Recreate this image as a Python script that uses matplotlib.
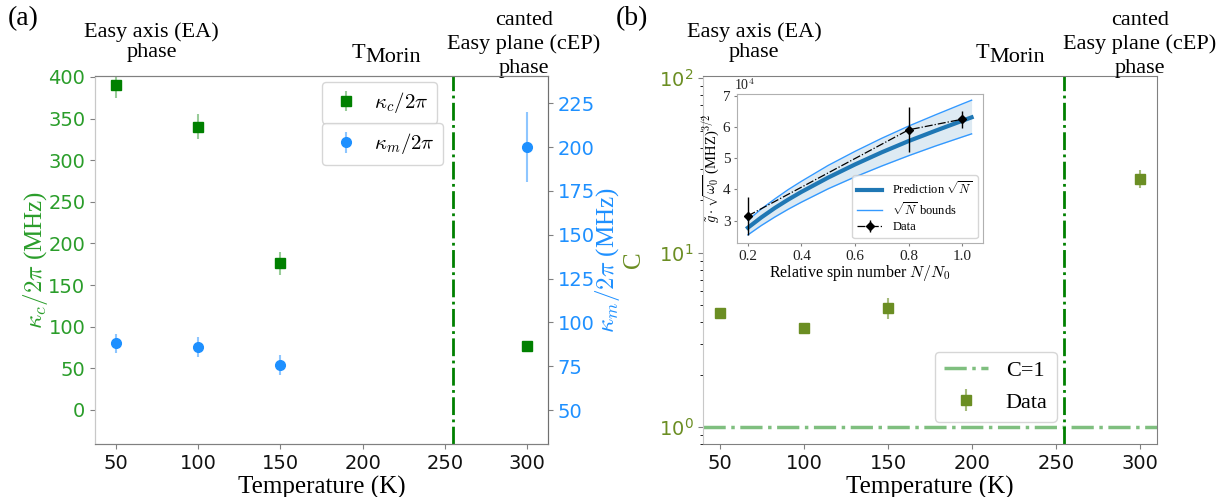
import numpy as np
import matplotlib.pyplot as plt
from matplotlib.transforms import blended_transform_factory

plt.rcParams['font.family'] = 'DejaVu Sans'
plt.rcParams['mathtext.fontset'] = 'cm'

SERIF = 'Liberation Serif'

# Linewidths vs temperature (K)
temps = [50, 100, 150, 300]
kappa_c = [390, 340, 176, 77]
kappa_c_err = [15, 15, 14, 3]
kappa_m = [88, 86, 75.6, 200]
kappa_m_err = [5.3, 5.5, 5.7, 20]

# Cooperativity vs temperature
coop = [4.54, 3.69, 4.83, 26.5]
coop_err = [0.15, 0.15, 0.65, 3.1]

T_MORIN = 255

# Inset: coupling vs relative spin number (units of 1e4)
n_rel = [0.2, 0.8, 1.0]
g_data = [3.15, 5.91, 6.25]
g_err = [0.62, 0.72, 0.27]
n_grid = [0.2, 0.25, 0.3, 0.35, 0.4, 0.5, 0.6, 0.7, 0.8, 0.9, 1.0, 1.035]
g_pred = [2.77, 3.10, 3.40, 3.67, 3.92, 4.38, 4.80, 5.19, 5.55, 5.88, 6.20, 6.31]
g_upper = [3.01, 3.37, 3.69, 3.99, 4.26, 4.77, 5.22, 5.64, 6.03, 6.39, 6.74, 6.86]
g_lower = [2.54, 2.84, 3.11, 3.36, 3.59, 4.02, 4.40, 4.75, 5.08, 5.39, 5.68, 5.78]

GREEN = 'green'
GREEN_TXT = '#2a9d2a'
BLUE = 'dodgerblue'
OLIVE = '#6b8e23'


def style_spines(ax):
    for side in ['top', 'right', 'bottom']:
        ax.spines[side].set_color('#808080')
    ax.spines['left'].set_color('#c8c8c8')
    ax.tick_params(colors='#808080', labelsize=14)
    for lbl in ax.get_xticklabels():
        lbl.set_color('#111111')


def phase_labels(ax, x_ea, x_morin, x_cep):
    trans = blended_transform_factory(ax.transData, ax.transAxes)
    ax.text(x_ea, 1.038, 'Easy axis (EA)\nphase', transform=trans, ha='center',
            va='bottom', fontsize=16, family=SERIF, linespacing=1.1, clip_on=False)
    ax.text(x_morin, 1.049, 'T', transform=trans, ha='right', va='baseline',
            fontsize=16, family=SERIF, clip_on=False)
    ax.text(x_morin, 1.038, 'Morin', transform=trans, ha='left', va='baseline',
            fontsize=16, family=SERIF, clip_on=False)
    ax.text(x_cep, 0.996, 'canted\nEasy plane (cEP)\nphase', transform=trans,
            ha='center', va='bottom', fontsize=16, family=SERIF, linespacing=1.3,
            clip_on=False)


fig = plt.figure(figsize=(12.32, 4.97), dpi=100)

# ---- (a) linewidths ----
ax = fig.add_axes([0.0771, 0.1066, 0.3677, 0.7404])
ax2 = ax.twinx()

ax.errorbar(temps, kappa_c, yerr=kappa_c_err, fmt='s', color=GREEN, ms=6.5,
            ecolor=(0, 0.5, 0, 0.4), elinewidth=1.5, label=r'$\kappa_c/2\pi$')
ax2.errorbar(temps, kappa_m, yerr=kappa_m_err, fmt='o', color=BLUE, ms=7,
             ecolor=(0.12, 0.56, 1.0, 0.5), elinewidth=1.5, label=r'$\kappa_m/2\pi$')
ax.axvline(T_MORIN, color=GREEN, ls='-.', lw=2)

ax.set_xlim(37.5, 312.5)
ax.set_ylim(-41, 401)
ax.set_yticks(np.arange(0, 401, 50))
ax2.set_ylim(30.6, 240.6)
ax2.set_yticks(np.arange(50, 226, 25))

style_spines(ax)
style_spines(ax2)
ax2.spines['right'].set_color('#707070')
ax.tick_params(axis='y', labelcolor=GREEN_TXT)
ax2.tick_params(axis='y', labelcolor=BLUE)

ax.set_xlabel('Temperature (K)', fontsize=18, family=SERIF, labelpad=2)
ax.set_ylabel(r'$\kappa_c/2\pi$ (MHz)', fontsize=18, family=SERIF, color=GREEN_TXT)
ax.yaxis.set_label_coords(-0.100, 0.5)
ax2.set_ylabel(r'$\kappa_m/2\pi$ (MHz)', fontsize=18, family=SERIF, color=BLUE)
ax2.yaxis.set_label_coords(1.100, 0.5)

leg_kw = dict(prop={'family': SERIF, 'size': 15}, borderaxespad=0,
              handlelength=1.5, handletextpad=0.6)
ax.legend(loc='upper left', bbox_to_anchor=(0.501, 0.984), **leg_kw)
ax2.legend(loc='upper left', bbox_to_anchor=(0.501, 0.872), **leg_kw)
phase_labels(ax, 72, 201.6, 298)

# ---- (b) cooperativity ----
bx = fig.add_axes([0.5709, 0.1066, 0.368, 0.7404])
bx.axhline(1, color=GREEN, alpha=0.5, ls='-.', lw=2.5, label='C=1')
bx.errorbar(temps, coop, yerr=coop_err, fmt='s', color=OLIVE, ms=7,
            ecolor=(0.42, 0.56, 0.14, 0.6), elinewidth=1.5, label='Data')
bx.axvline(T_MORIN, color=GREEN, ls='-.', lw=2)
bx.set_yscale('log')
bx.set_xlim(40, 310)
bx.set_ylim(0.8, 103)
style_spines(bx)
bx.tick_params(axis='y', which='both', labelcolor=OLIVE)
bx.set_xlabel('Temperature (K)', fontsize=18, family=SERIF, labelpad=2)
bx.set_ylabel('C', fontsize=18, family=SERIF, color=OLIVE)
bx.yaxis.set_label_coords(-0.128, 0.5)
bx.legend(loc='lower right', bbox_to_anchor=(0.779, 0.061),
          prop={'family': SERIF, 'size': 16}, borderaxespad=0, handlelength=2.0)
phase_labels(bx, 70.4, 210.3, 300)

# ---- inset: coupling strength ----
ix = fig.add_axes([0.598, 0.5105, 0.1997, 0.3004])
ix.fill_between(n_grid, g_lower, g_upper, color='#1f77b4', alpha=0.15, lw=0)
ix.plot(n_grid, g_pred, color='#1f77b4', lw=3, label=r'Prediction $\sqrt{N}$')
ix.plot(n_grid, g_upper, color='#3399ff', lw=1, label=r'$\sqrt{N}$ bounds')
ix.plot(n_grid, g_lower, color='#3399ff', lw=1)
ix.errorbar(n_rel, g_data, yerr=g_err, fmt='D-.', color='black', ms=4, lw=0.9,
            elinewidth=1, label='Data')
ix.set_ylim(2.27, 7.06)
ix.set_yticks([3, 4, 5, 6, 7])
ix.set_xticks([0.2, 0.4, 0.6, 0.8, 1.0])
for side in ix.spines:
    ix.spines[side].set_color('#b0b0b0')
ix.tick_params(colors='#808080', labelsize=11, length=2.5, pad=2)
for lbl in ix.get_xticklabels() + ix.get_yticklabels():
    lbl.set_fontfamily(SERIF)
    lbl.set_color('#222222')
ix.text(-0.01, 1.005, r'10$^4$', transform=ix.transAxes, ha='left', va='bottom',
        fontsize=10, family=SERIF, color='#222222')
ix.set_xlabel(r'Relative spin number $N/N_0$', fontsize=11.5, family=SERIF, labelpad=0)
ix.set_ylabel(r'$\tilde{g}\cdot\sqrt{\omega_0}$ (MHZ)$^{3/2}$', fontsize=10.5,
              family=SERIF, labelpad=1)
ix.legend(loc='lower right', prop={'family': SERIF, 'size': 9}, handlelength=2.0,
          labelspacing=0.3, borderaxespad=0.4)

# panel tags
fig.text(8 / 1232, 1 - 6 / 497, '(a)', fontsize=20, family=SERIF, va='top')
fig.text(616 / 1232, 1 - 6 / 497, '(b)', fontsize=20, family=SERIF, va='top')

fig.savefig('out.png', dpi=100)
